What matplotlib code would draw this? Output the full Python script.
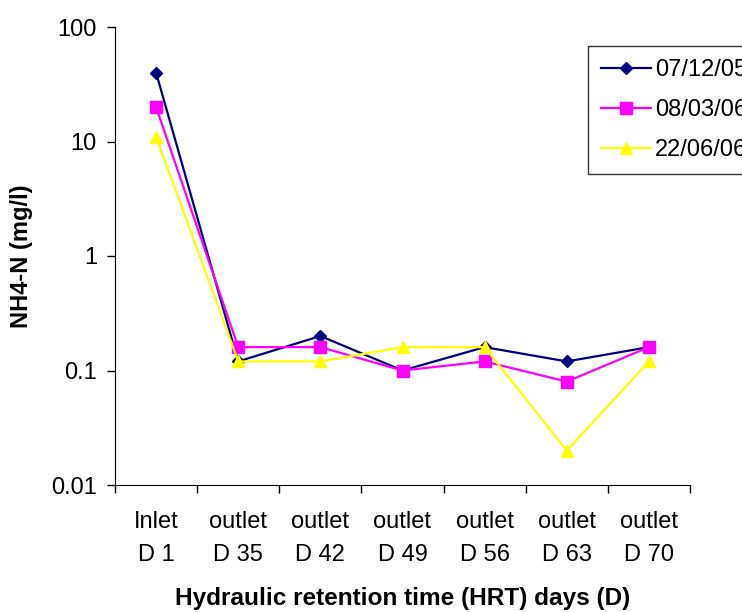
import numpy as np
import matplotlib
matplotlib.use("Agg")
import matplotlib.pyplot as plt
from matplotlib.ticker import FixedLocator, FuncFormatter, NullLocator

plt.rcParams['font.family'] = ['Liberation Sans', 'DejaVu Sans']

# NH4-N concentrations (mg/l) at the inlet and outlets, three sampling dates
stations = ["Inlet\nD 1", "outlet\nD 35", "outlet\nD 42", "outlet\nD 49",
            "outlet\nD 56", "outlet\nD 63", "outlet\nD 70"]
dec05 = [40, 0.12, 0.2, 0.1, 0.16, 0.12, 0.16]
mar06 = [20, 0.16, 0.16, 0.1, 0.12, 0.08, 0.16]
jun06 = [11, 0.12, 0.12, 0.16, 0.16, 0.02, 0.12]
dates = ["07/12/05", "08/03/06", "22/06/06"]

fs = 17
fig = plt.figure(figsize=(7.42, 6.12), dpi=100)
ax = fig.add_axes([115/742, 1-485/612, 575/742, 458/612])

x = np.arange(len(stations))
ax.plot(x, dec05, color="#000080", marker="D", ms=6.2, lw=1.6, label=dates[0])
ax.plot(x, mar06, color="#FF00FF", marker="s", ms=8, lw=1.6, label=dates[1])
ax.plot(x, jun06, color="#FFFF00", marker="^", ms=8.8, lw=1.6, label=dates[2])

ax.set_yscale("log")
ax.set_ylim(0.01, 100)
ax.yaxis.set_major_locator(FixedLocator([0.01, 0.1, 1, 10, 100]))
ax.yaxis.set_minor_locator(NullLocator())
ax.yaxis.set_major_formatter(FuncFormatter(lambda v, p: "%g" % v))

# category boundaries get the tick marks, labels sit between them
ax.set_xlim(-0.5, len(stations) - 0.5)
ax.set_xticks(np.arange(len(stations) + 1) - 0.5)
ax.set_xticklabels([])
ax.set_xticks(x, minor=True)
ax.set_xticklabels(stations, minor=True, fontsize=fs)
for lbl in ax.get_xticklabels(minor=True):
    lbl.set_linespacing(1.6)
ax.tick_params(axis="x", which="minor", length=0, pad=19)
ax.tick_params(axis="x", which="major", length=6, width=1, direction="out")
ax.tick_params(axis="y", length=6, width=1, labelsize=fs, pad=7)

for s in ["top", "right"]:
    ax.spines[s].set_visible(False)

ax.set_ylabel("NH4-N (mg/l)", fontsize=fs, fontweight="bold")
ax.yaxis.set_label_coords(-0.143, 0.5)
ax.set_xlabel("Hydraulic retention time (HRT) days (D)", fontsize=17.6,
              fontweight="bold")
ax.xaxis.set_label_coords(0.5, -0.222)

leg = fig.legend(loc="upper left", bbox_to_anchor=(588/742, 1-46/612),
                 borderaxespad=0, fontsize=fs, frameon=True, fancybox=False,
                 edgecolor="black", handlelength=2.1, handletextpad=0.2,
                 borderpad=0.55, labelspacing=0.76)
leg.get_frame().set_linewidth(1)

fig.savefig("out.png", dpi=100)
